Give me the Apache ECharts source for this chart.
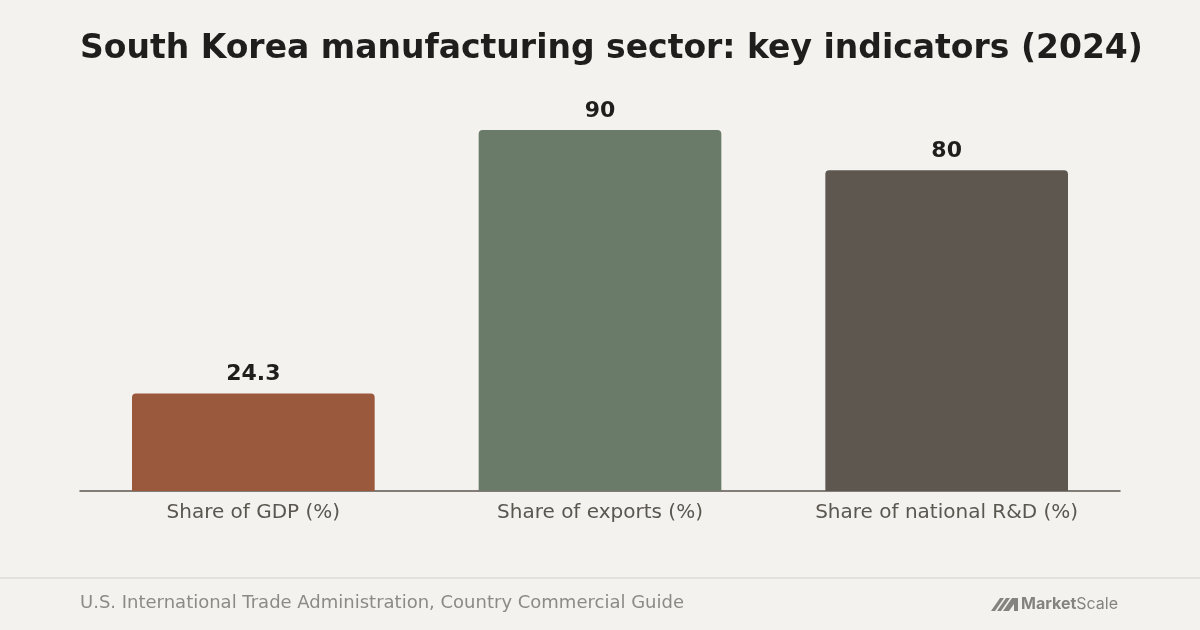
<!DOCTYPE html>
<html lang="en" style="height: 100%">
<head>
  <meta charset="utf-8">
</head>
<body style="height: 100%; margin: 0; background: #f4f2ee">
  <div id="container" style="width: 1200px; height: 630px"></div>
  <script type="text/javascript" src="https://cdn.jsdelivr.net/npm/echarts@6/dist/echarts.min.js"></script>
  <script type="text/javascript">
    var dom = document.getElementById('container');
    var myChart = echarts.init(dom, null, { renderer: 'canvas' });

    const categories = ['Share of GDP (%)', 'Share of exports (%)', 'Share of national R&D (%)'];
    const values = [24.3, 90, 80];
    const barColors = ['#9a583d', '#6b7b6a', '#5d5750'];

    var font = '"DejaVu Sans"';

    var option = {
      backgroundColor: '#f4f2ee',
      animation: false,
      title: {
        text: 'South Korea manufacturing sector: key indicators (2024)',
        left: 75,
        top: 28,
        textStyle: { fontFamily: font, fontSize: 33, fontWeight: 'bold', color: '#1f1e1c' }
      },
      grid: { left: 80, right: 80, top: 90, bottom: 139 },
      xAxis: {
        type: 'category',
        data: categories,
        axisTick: { show: false },
        axisLine: { lineStyle: { color: '#5d5750', width: 1.5 } },
        axisLabel: { fontFamily: font, fontSize: 20, color: '#5a5650', margin: 12 }
      },
      yAxis: {
        type: 'value',
        min: 0,
        max: 100,
        show: false,
        splitLine: { show: false }
      },
      series: [
        {
          type: 'bar',
          barWidth: '70%',
          data: values.map(function (v, i) {
            return { value: v, itemStyle: { color: barColors[i] } };
          }),
          itemStyle: { borderRadius: [4, 4, 0, 0] },
          label: {
            show: true,
            position: 'top',
            distance: 8,
            fontFamily: font,
            fontSize: 22,
            fontWeight: 'bold',
            color: '#1f1e1c'
          }
        }
      ],
      graphic: [
        {
          type: 'line',
          shape: { x1: 0, y1: 578, x2: 1200, y2: 578 },
          style: { stroke: '#e4e1dc', lineWidth: 2 }
        },
        {
          type: 'text',
          left: 80,
          top: 594,
          style: {
            text: 'U.S. International Trade Administration, Country Commercial Guide',
            font: '18px "DejaVu Sans"',
            fill: '#8c8a86'
          }
        },
        {
          type: 'polygon',
          shape: { points: [[991, 611], [1000, 598], [1004, 598], [995, 611]] },
          style: { fill: '#858380' }
        },
        {
          type: 'polygon',
          shape: { points: [[997, 611], [1006, 598], [1010, 598], [1001, 611]] },
          style: { fill: '#858380' }
        },
        {
          type: 'polygon',
          shape: { points: [[1003, 611], [1012, 598], [1018, 598], [1018, 611], [1014, 611], [1014, 604], [1009, 611]] },
          style: { fill: '#858380' }
        },
        {
          type: 'text',
          left: 1021,
          top: 596,
          style: {
            rich: {
              b: { font: 'bold 16px Inter', fill: '#858380' },
              r: { font: '16px Inter', fill: '#858380' }
            },
            text: '{b|Market}{r|Scale}'
          }
        }
      ]
    };

    myChart.setOption(option);
    window.addEventListener('resize', myChart.resize);
  </script>
</body>
</html>
